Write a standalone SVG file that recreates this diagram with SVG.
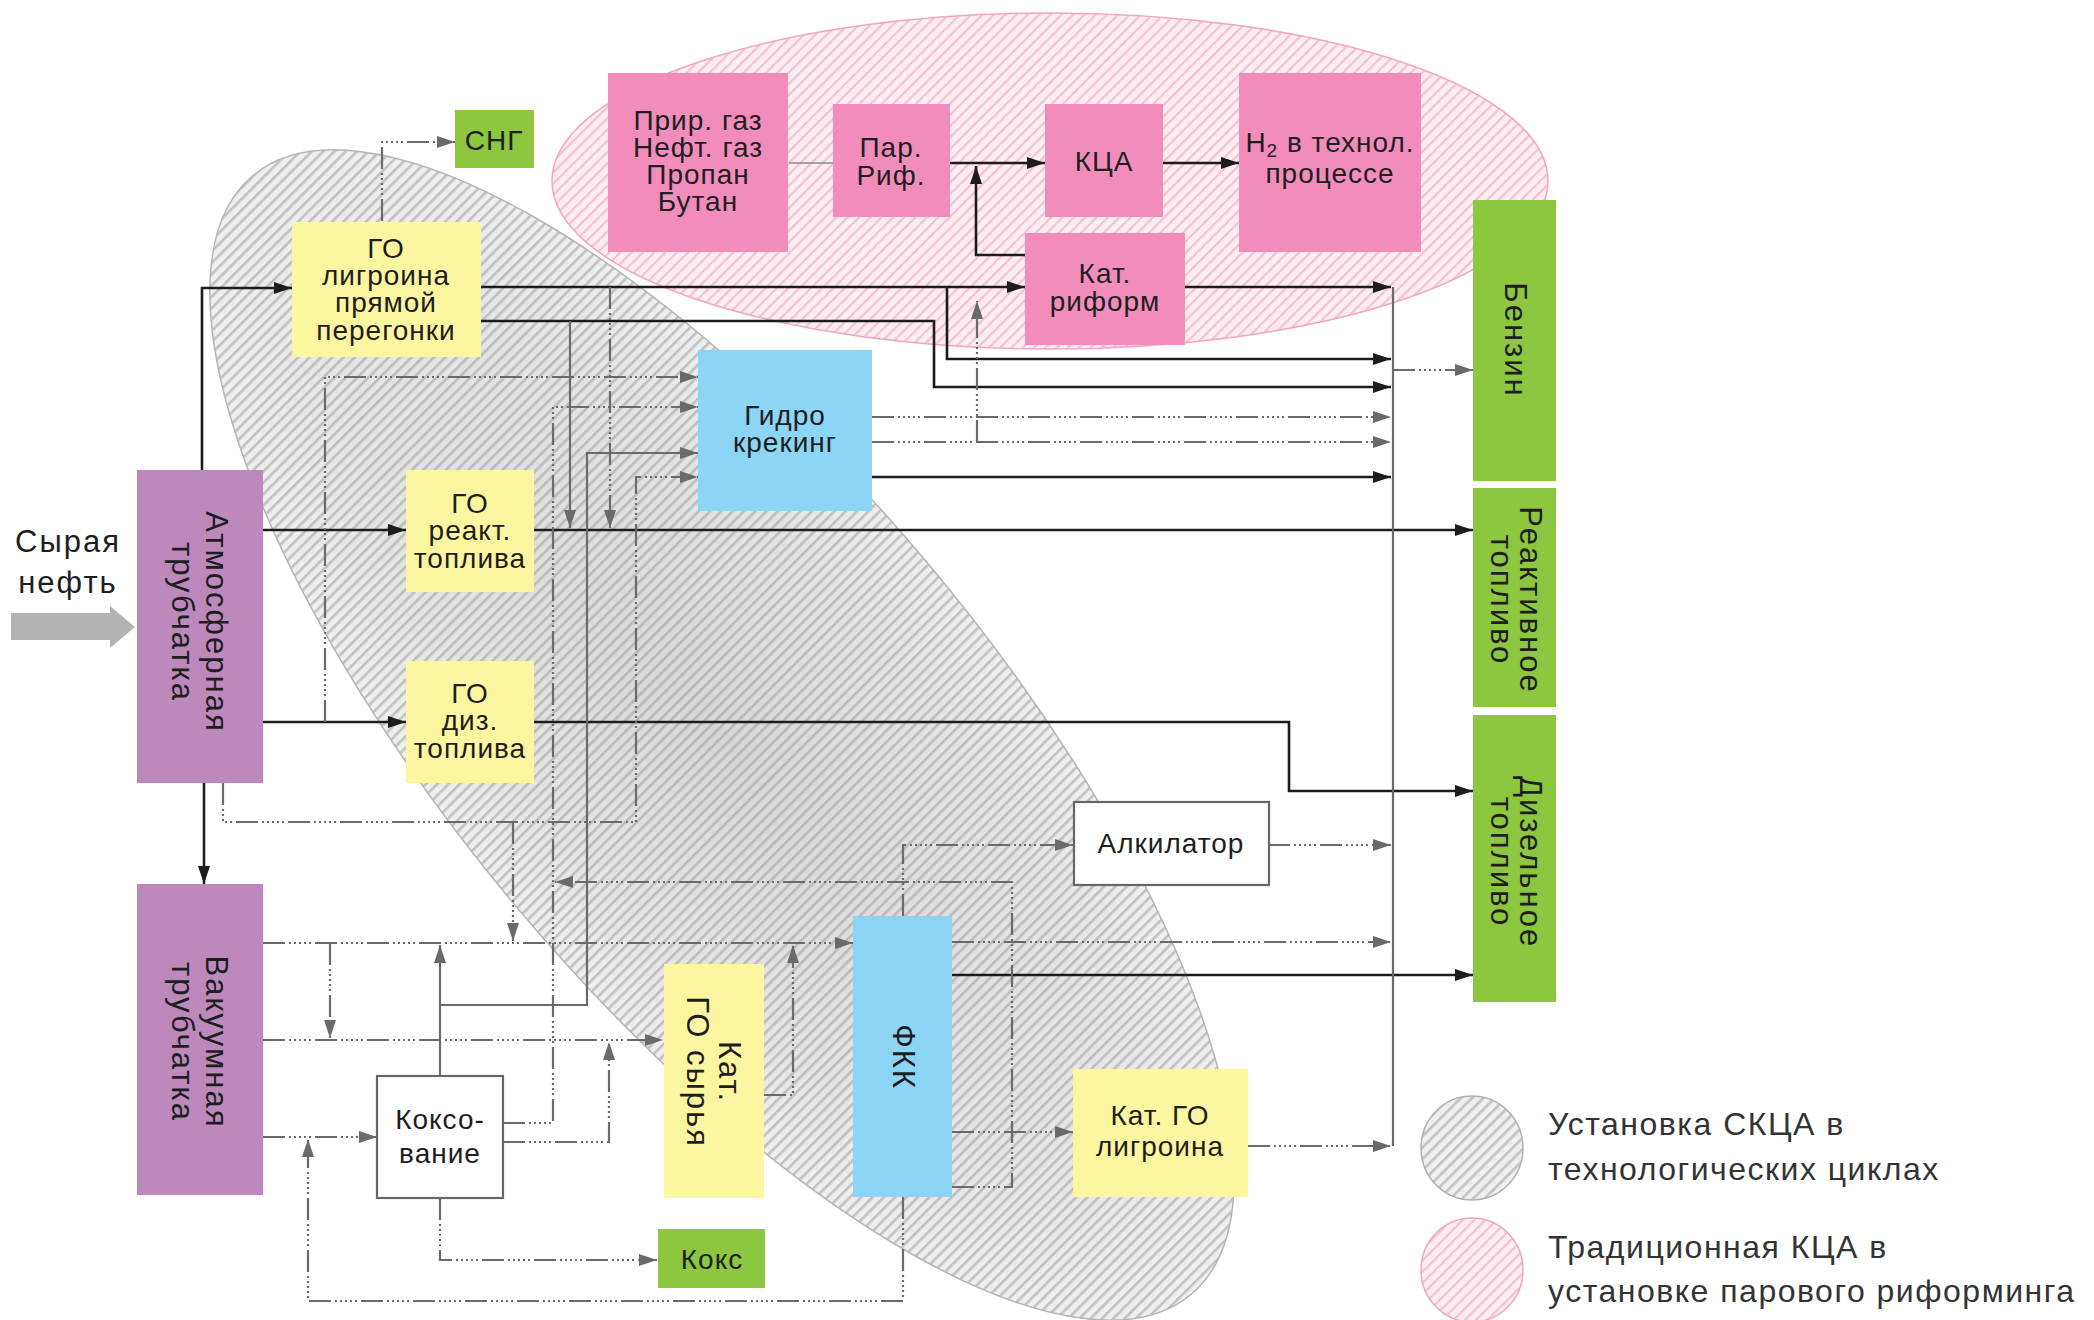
<svg xmlns="http://www.w3.org/2000/svg" width="2094" height="1320" viewBox="0 0 2094 1320">
<defs>
<style>
text{font-family:"Liberation Sans",Arial,sans-serif;fill:#1e1e1e;}
.lb{font-size:28px;letter-spacing:1px;text-anchor:middle;}
.rl{font-size:31px;letter-spacing:2px;text-anchor:middle;}
.lg{font-size:32px;letter-spacing:1.5px;fill:#333;}
.k{fill:none;stroke:#1c1c1c;stroke-width:2.6;}
.g{fill:none;stroke:#6a6a6a;stroke-width:2.2;stroke-dasharray:22 4 2 3 2 3 2 3 2 3 2 4;}
.gs{fill:none;stroke:#6a6a6a;stroke-width:2.2;}
.t{fill:none;stroke:#8a8a8a;stroke-width:1.6;}
.purple{fill:#bd89bd;}
.yellow{fill:#fdf6a0;}
.pink{fill:#f28dbb;}
.blue{fill:#8cd5f5;}
.green{fill:#8dc63f;}
.white{fill:#fff;stroke:#666;stroke-width:2.2;}
</style>
<pattern id="hg" width="8" height="8" patternUnits="userSpaceOnUse" patternTransform="rotate(45)">
<rect width="8" height="8" fill="#efefef"/>
<rect x="0" y="0" width="2.6" height="8" fill="#c2c2c2"/>
</pattern>
<pattern id="hg2" width="8" height="8" patternUnits="userSpaceOnUse" patternTransform="rotate(-5)">
<rect width="8" height="8" fill="#efefef"/>
<rect x="0" y="0" width="2.6" height="8" fill="#c2c2c2"/>
</pattern>
<pattern id="hp" width="8" height="8" patternUnits="userSpaceOnUse" patternTransform="rotate(45)">
<rect width="8" height="8" fill="#fdeef3"/>
<rect x="0" y="0" width="2.2" height="8" fill="#f7bfd2"/>
</pattern>
<radialGradient id="shade" cx="0.5" cy="0.5" r="0.5">
<stop offset="0" stop-color="#999" stop-opacity="0.28"/>
<stop offset="0.7" stop-color="#999" stop-opacity="0.12"/>
<stop offset="1" stop-color="#999" stop-opacity="0"/>
</radialGradient>
<marker id="ak" viewBox="0 0 18 12" refX="18" refY="6" markerWidth="18" markerHeight="12" markerUnits="userSpaceOnUse" orient="auto">
<path d="M0,0 L18,6 L0,12 z" fill="#1c1c1c"/>
</marker>
<marker id="ag" viewBox="0 0 18 12" refX="18" refY="6" markerWidth="18" markerHeight="12" markerUnits="userSpaceOnUse" orient="auto">
<path d="M0,0 L18,6 L0,12 z" fill="#6a6a6a"/>
</marker>
</defs>
<rect width="2094" height="1320" fill="#fff"/>

<g id="regions">
<ellipse cx="1050" cy="181" rx="498" ry="168" fill="url(#hp)" stroke="#f3a5c0" stroke-width="1.5"/>
<g transform="translate(722,735) rotate(50)">
<ellipse cx="0" cy="0" rx="730" ry="268" fill="url(#hg2)" stroke="#b5b5b5" stroke-width="1.5"/>
<ellipse cx="0" cy="0" rx="730" ry="268" fill="url(#shade)"/>
</g>
</g>

<g id="connectors">
<path class="k" d="M202,470 V288 H292" marker-end="url(#ak)"/>
<path class="k" d="M481,287 H1025" marker-end="url(#ak)"/>
<path class="k" d="M947,287 V359 H1391" marker-end="url(#ak)"/>
<path class="k" d="M481,321 H934 V387 H1391" marker-end="url(#ak)"/>
<path class="k" d="M1185,287 H1391" marker-end="url(#ak)"/>
<path class="k" d="M1025,255 H976 V166" marker-end="url(#ak)"/>
<path class="k" d="M950,163 H1045" marker-end="url(#ak)"/>
<path class="k" d="M1163,163 H1239" marker-end="url(#ak)"/>
<path class="k" d="M872,477 H1391" marker-end="url(#ak)"/>
<path class="k" d="M263,530 H406" marker-end="url(#ak)"/>
<path class="k" d="M534,530 H1473" marker-end="url(#ak)"/>
<path class="k" d="M263,722 H406" marker-end="url(#ak)"/>
<path class="k" d="M534,722 H1289 V791 H1473" marker-end="url(#ak)"/>
<path class="k" d="M952,975 H1473" marker-end="url(#ak)"/>
<path class="k" d="M204,783 V884" marker-end="url(#ak)"/>
<path class="t" d="M789,163 H833"/>
<path class="gs" d="M1393,287 V1146"/>
<path class="g" d="M382,221 V142 H455" marker-end="url(#ag)"/>
<path class="g" d="M610,287 V528" marker-end="url(#ag)"/>
<path class="gs" d="M570,321 V528" marker-end="url(#ag)"/>
<path class="g" d="M977,442 V301" marker-end="url(#ag)"/>
<path class="g" d="M872,417 H1391" marker-end="url(#ag)"/>
<path class="g" d="M872,442 H1391" marker-end="url(#ag)"/>
<path class="g" d="M1393,370 H1473" marker-end="url(#ag)"/>
<path class="g" d="M325,722 V377 H698" marker-end="url(#ag)"/>
<path class="g" d="M503,1123 H553 V407 H698" marker-end="url(#ag)"/>
<path class="gs" d="M440,1076 V945" marker-end="url(#ag)"/>
<path class="gs" d="M440,1005 H587 V453 H698" marker-end="url(#ag)"/>
<path class="g" d="M223,783 V822 H636 V477 H698" marker-end="url(#ag)"/>
<path class="g" d="M513,822 V941" marker-end="url(#ag)"/>
<path class="g" d="M263,943 H853" marker-end="url(#ag)"/>
<path class="g" d="M263,1040 H663" marker-end="url(#ag)"/>
<path class="g" d="M263,1137 H377" marker-end="url(#ag)"/>
<path class="g" d="M330,943 V1038" marker-end="url(#ag)"/>
<path class="g" d="M903,916 V845 H1073" marker-end="url(#ag)"/>
<path class="g" d="M952,942 H1391" marker-end="url(#ag)"/>
<path class="g" d="M952,1132 H1073" marker-end="url(#ag)"/>
<path class="g" d="M952,1187 H1012 V882 H555" marker-end="url(#ag)"/>
<path class="g" d="M903,1197 V1301 H308 V1139" marker-end="url(#ag)"/>
<path class="g" d="M764,1095 H793 V945" marker-end="url(#ag)"/>
<path class="g" d="M1268,845 H1391" marker-end="url(#ag)"/>
<path class="g" d="M1248,1146 H1391" marker-end="url(#ag)"/>
<path class="g" d="M440,1198 V1260 H657" marker-end="url(#ag)"/>
<path class="g" d="M503,1142 H609 V1042" marker-end="url(#ag)"/>
</g>

<g id="crude-input">
<path d="M11,613 H110 V606 L135,627 L110,648 V640 H11 z" fill="#b3b3b3"/>
<text class="lb" x="68" y="552" style="font-size:31px;letter-spacing:2px">Сырая</text>
<text class="lb" x="68" y="593" style="font-size:31px;letter-spacing:2px">нефть</text>
</g>

<g id="n-atm"><rect class="purple" x="137" y="470" width="126" height="313"/>
<g transform="translate(200,622) rotate(90)"><text class="rl" y="-6">Атмосферная</text><text class="rl" y="28">трубчатка</text></g></g>

<g id="n-vac"><rect class="purple" x="137" y="884" width="126" height="311"/>
<g transform="translate(200,1042) rotate(90)"><text class="rl" y="-6">Вакуумная</text><text class="rl" y="28">трубчатка</text></g></g>

<g id="n-sng"><rect class="green" x="455" y="110" width="79" height="58"/>
<text class="lb" x="494" y="150">СНГ</text></g>

<g id="n-go-lig"><rect class="yellow" x="292" y="222" width="189" height="135"/>
<text class="lb" x="386" y="258">ГО</text><text class="lb" x="386" y="285">лигроина</text><text class="lb" x="386" y="312">прямой</text><text class="lb" x="386" y="340">перегонки</text></g>

<g id="n-go-jet"><rect class="yellow" x="406" y="470" width="128" height="122"/>
<text class="lb" x="470" y="513">ГО</text><text class="lb" x="470" y="540">реакт.</text><text class="lb" x="470" y="568">топлива</text></g>

<g id="n-go-diz"><rect class="yellow" x="406" y="661" width="128" height="122"/>
<text class="lb" x="470" y="703">ГО</text><text class="lb" x="470" y="730">диз.</text><text class="lb" x="470" y="758">топлива</text></g>

<g id="n-gas"><rect class="pink" x="608" y="73" width="180" height="179"/>
<text class="lb" x="698" y="130">Прир. газ</text><text class="lb" x="698" y="157">Нефт. газ</text><text class="lb" x="698" y="184">Пропан</text><text class="lb" x="698" y="211">Бутан</text></g>

<g id="n-par"><rect class="pink" x="833" y="104" width="117" height="113"/>
<text class="lb" x="891" y="157">Пар.</text><text class="lb" x="891" y="185">Риф.</text></g>

<g id="n-kca"><rect class="pink" x="1045" y="104" width="118" height="113"/>
<text class="lb" x="1104" y="171">КЦА</text></g>

<g id="n-h2"><rect class="pink" x="1239" y="73" width="182" height="179"/>
<text class="lb" x="1330" y="152">H<tspan font-size="19" dy="5">2</tspan><tspan dy="-5"> в технол.</tspan></text><text class="lb" x="1330" y="183">процессе</text></g>

<g id="n-katref"><rect class="pink" x="1025" y="233" width="160" height="112"/>
<text class="lb" x="1105" y="283">Кат.</text><text class="lb" x="1105" y="311">риформ</text></g>

<g id="n-hydro"><rect class="blue" x="698" y="350" width="174" height="161"/>
<text class="lb" x="785" y="425">Гидро</text><text class="lb" x="785" y="452">крекинг</text></g>

<g id="n-alk"><rect class="white" x="1074" y="802" width="195" height="83"/>
<text class="lb" x="1171" y="853">Алкилатор</text></g>

<g id="n-fkk"><rect class="blue" x="853" y="916" width="99" height="281"/>
<g transform="translate(903,1057) rotate(90)"><text class="rl" y="10">ФКК</text></g></g>

<g id="n-katgo"><rect class="yellow" x="664" y="964" width="100" height="234"/>
<g transform="translate(714,1072) rotate(90)"><text class="rl" y="-5">Кат.</text><text class="rl" y="27">ГО сырья</text></g></g>

<g id="n-koks"><rect class="white" x="377" y="1076" width="126" height="122"/>
<text class="lb" x="440" y="1129">Коксо-</text><text class="lb" x="440" y="1163">вание</text></g>

<g id="n-coke"><rect class="green" x="658" y="1229" width="107" height="59"/>
<text class="lb" x="712" y="1269">Кокс</text></g>

<g id="n-katlig"><rect class="yellow" x="1073" y="1069" width="175" height="128"/>
<text class="lb" x="1160" y="1125">Кат. ГО</text><text class="lb" x="1160" y="1156">лигроина</text></g>

<g id="n-benz"><rect class="green" x="1473" y="200" width="83" height="281"/>
<g transform="translate(1515,340) rotate(90)"><text class="rl" y="10">Бензин</text></g></g>

<g id="n-jet"><rect class="green" x="1473" y="488" width="83" height="219"/>
<g transform="translate(1515,600) rotate(90)"><text class="rl" y="-5">Реактивное</text><text class="rl" y="24">топливо</text></g></g>

<g id="n-diesel"><rect class="green" x="1473" y="715" width="83" height="287"/>
<g transform="translate(1515,862) rotate(90)"><text class="rl" y="-5">Дизельное</text><text class="rl" y="24">топливо</text></g></g>

<g id="legend">
<ellipse cx="1472" cy="1148" rx="51" ry="52" fill="url(#hg)" stroke="#b0b0b0" stroke-width="1.5"/>
<ellipse cx="1472" cy="1270" rx="51" ry="52" fill="url(#hp)" stroke="#f3a5c0" stroke-width="1.5"/>
<text class="lg" x="1548" y="1135">Установка СКЦА в</text>
<text class="lg" x="1548" y="1180">технологических циклах</text>
<text class="lg" x="1548" y="1258">Традиционная КЦА в</text>
<text class="lg" x="1548" y="1302">установке парового риформинга</text>
</g>
</svg>
